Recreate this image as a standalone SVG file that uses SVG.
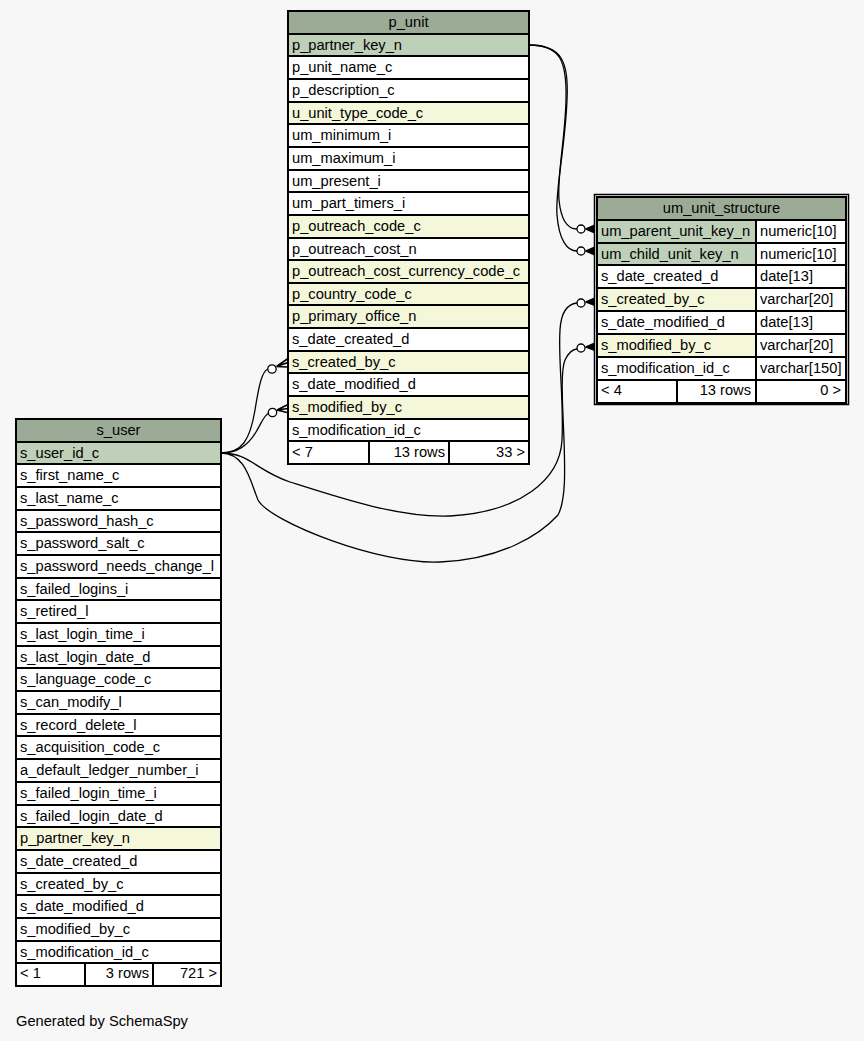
<svg xmlns="http://www.w3.org/2000/svg" width="864" height="1041" viewBox="0 0 864 1041">
<style>
text{font-family:"Liberation Sans",Arial,Helvetica,sans-serif;font-size:14.67px;fill:#000}
.c{stroke:#000;stroke-width:2;fill:#fff}
.h{fill:#9bab96}
.pk{fill:#bed1b8}
.fk{fill:#f4f7da}
.m{text-anchor:middle}
.r{text-anchor:end}
.e{fill:none;stroke:#000;stroke-width:1.3}
.o{fill:#fff;stroke:#000;stroke-width:1.3}
.cr{fill:#000;stroke:#000;stroke-width:1.4;stroke-linejoin:round}
</style>
<rect x="0" y="0" width="864" height="1041" fill="#f7f7f7"/>

<g id="p_unit">
<rect class="c h" x="288" y="11" width="241" height="23"/><text class="m" x="408.5" y="27">p_unit</text>
<rect class="c pk" x="288" y="34" width="241" height="22"/><text x="292" y="50">p_partner_key_n</text>
<rect class="c" x="288" y="56" width="241" height="23"/><text x="292" y="72">p_unit_name_c</text>
<rect class="c" x="288" y="79" width="241" height="23"/><text x="292" y="95">p_description_c</text>
<rect class="c fk" x="288" y="102" width="241" height="22"/><text x="292" y="118">u_unit_type_code_c</text>
<rect class="c" x="288" y="124" width="241" height="23"/><text x="292" y="140">um_minimum_i</text>
<rect class="c" x="288" y="147" width="241" height="23"/><text x="292" y="163">um_maximum_i</text>
<rect class="c" x="288" y="170" width="241" height="22"/><text x="292" y="186">um_present_i</text>
<rect class="c" x="288" y="192" width="241" height="23"/><text x="292" y="208">um_part_timers_i</text>
<rect class="c fk" x="288" y="215" width="241" height="23"/><text x="292" y="231">p_outreach_code_c</text>
<rect class="c" x="288" y="238" width="241" height="22"/><text x="292" y="254">p_outreach_cost_n</text>
<rect class="c fk" x="288" y="260" width="241" height="23"/><text x="292" y="276">p_outreach_cost_currency_code_c</text>
<rect class="c fk" x="288" y="283" width="241" height="22"/><text x="292" y="299">p_country_code_c</text>
<rect class="c fk" x="288" y="305" width="241" height="23"/><text x="292" y="321">p_primary_office_n</text>
<rect class="c" x="288" y="328" width="241" height="23"/><text x="292" y="344">s_date_created_d</text>
<rect class="c fk" x="288" y="351" width="241" height="22"/><text x="292" y="367">s_created_by_c</text>
<rect class="c" x="288" y="373" width="241" height="23"/><text x="292" y="389">s_date_modified_d</text>
<rect class="c fk" x="288" y="396" width="241" height="23"/><text x="292" y="412">s_modified_by_c</text>
<rect class="c" x="288" y="419" width="241" height="22"/><text x="292" y="435">s_modification_id_c</text>
<rect class="c" x="288" y="441" width="81" height="23"/><text x="292" y="457">&lt; 7</text>
<rect class="c" x="369" y="441" width="80" height="23"/><text class="r" x="445" y="457">13 rows</text>
<rect class="c" x="449" y="441" width="80" height="23"/><text class="r" x="525" y="457">33 &gt;</text>
</g>

<g id="um_unit_structure">
<rect x="594.5" y="194.5" width="254" height="210" fill="none" stroke="#000" stroke-width="1.5"/>
<rect class="c h" x="597" y="197" width="249" height="23"/><text class="m" x="721.5" y="213">um_unit_structure</text>
<rect class="c pk" x="597" y="220" width="159" height="23"/><text x="601" y="236">um_parent_unit_key_n</text>
<rect class="c" x="756" y="220" width="90" height="23"/><text x="760" y="236">numeric[10]</text>
<rect class="c pk" x="597" y="243" width="159" height="22"/><text x="601" y="259">um_child_unit_key_n</text>
<rect class="c" x="756" y="243" width="90" height="22"/><text x="760" y="259">numeric[10]</text>
<rect class="c" x="597" y="265" width="159" height="23"/><text x="601" y="281">s_date_created_d</text>
<rect class="c" x="756" y="265" width="90" height="23"/><text x="760" y="281">date[13]</text>
<rect class="c fk" x="597" y="288" width="159" height="23"/><text x="601" y="304">s_created_by_c</text>
<rect class="c" x="756" y="288" width="90" height="23"/><text x="760" y="304">varchar[20]</text>
<rect class="c" x="597" y="311" width="159" height="23"/><text x="601" y="327">s_date_modified_d</text>
<rect class="c" x="756" y="311" width="90" height="23"/><text x="760" y="327">date[13]</text>
<rect class="c fk" x="597" y="334" width="159" height="23"/><text x="601" y="350">s_modified_by_c</text>
<rect class="c" x="756" y="334" width="90" height="23"/><text x="760" y="350">varchar[20]</text>
<rect class="c" x="597" y="357" width="159" height="23"/><text x="601" y="373">s_modification_id_c</text>
<rect class="c" x="756" y="357" width="90" height="23"/><text x="760" y="373">varchar[150]</text>
<rect class="c" x="597" y="380" width="80" height="23"/><text x="601" y="395">&lt; 4</text>
<rect class="c" x="677" y="380" width="79" height="23"/><text class="r" x="751" y="395">13 rows</text>
<rect class="c" x="756" y="380" width="90" height="23"/><text class="r" x="841" y="395">0 &gt;</text>
</g>

<g id="s_user">
<rect class="c h" x="16" y="419" width="205" height="23"/><text class="m" x="118.5" y="435">s_user</text>
<rect class="c pk" x="16" y="442" width="205" height="22"/><text x="20" y="458">s_user_id_c</text>
<rect class="c" x="16" y="464" width="205" height="23"/><text x="20" y="480">s_first_name_c</text>
<rect class="c" x="16" y="487" width="205" height="23"/><text x="20" y="503">s_last_name_c</text>
<rect class="c" x="16" y="510" width="205" height="22"/><text x="20" y="526">s_password_hash_c</text>
<rect class="c" x="16" y="532" width="205" height="23"/><text x="20" y="548">s_password_salt_c</text>
<rect class="c" x="16" y="555" width="205" height="23"/><text x="20" y="571">s_password_needs_change_l</text>
<rect class="c" x="16" y="578" width="205" height="22"/><text x="20" y="594">s_failed_logins_i</text>
<rect class="c" x="16" y="600" width="205" height="23"/><text x="20" y="616">s_retired_l</text>
<rect class="c" x="16" y="623" width="205" height="23"/><text x="20" y="639">s_last_login_time_i</text>
<rect class="c" x="16" y="646" width="205" height="22"/><text x="20" y="662">s_last_login_date_d</text>
<rect class="c" x="16" y="668" width="205" height="23"/><text x="20" y="684">s_language_code_c</text>
<rect class="c" x="16" y="691" width="205" height="23"/><text x="20" y="707">s_can_modify_l</text>
<rect class="c" x="16" y="714" width="205" height="22"/><text x="20" y="730">s_record_delete_l</text>
<rect class="c" x="16" y="736" width="205" height="23"/><text x="20" y="752">s_acquisition_code_c</text>
<rect class="c" x="16" y="759" width="205" height="23"/><text x="20" y="775">a_default_ledger_number_i</text>
<rect class="c" x="16" y="782" width="205" height="23"/><text x="20" y="798">s_failed_login_time_i</text>
<rect class="c" x="16" y="805" width="205" height="22"/><text x="20" y="821">s_failed_login_date_d</text>
<rect class="c fk" x="16" y="827" width="205" height="23"/><text x="20" y="843">p_partner_key_n</text>
<rect class="c" x="16" y="850" width="205" height="23"/><text x="20" y="866">s_date_created_d</text>
<rect class="c" x="16" y="873" width="205" height="22"/><text x="20" y="889">s_created_by_c</text>
<rect class="c" x="16" y="895" width="205" height="23"/><text x="20" y="911">s_date_modified_d</text>
<rect class="c" x="16" y="918" width="205" height="23"/><text x="20" y="934">s_modified_by_c</text>
<rect class="c" x="16" y="941" width="205" height="22"/><text x="20" y="957">s_modification_id_c</text>
<rect class="c" x="16" y="963" width="69" height="23"/><text x="20" y="978">&lt; 1</text>
<rect class="c" x="85" y="963" width="68" height="23"/><text class="r" x="149" y="978">3 rows</text>
<rect class="c" x="153" y="963" width="68" height="23"/><text class="r" x="217" y="978">721 &gt;</text>
</g>

<g id="connectors">
<path class="e" d="M529,45 C560,45 567,60 566,100 C565,140 557,175 559,200 C561,220 568,229 577,229"/>
<path class="e" d="M529,45 C562,45 569,62 567,100 C565,150 555,190 557,215 C559,240 567,251 577,251"/>
<path class="e" d="M221,453 C242,453 250,440 255,410 C259,385 262,371 268,369"/>
<path class="e" d="M221,453 C238,453 248,445 256,432 C262,422 264,415 269,413"/>
<path class="e" d="M221,453 C250,453 255,470 290,482 C340,498 400,518 450,516 C520,512 560,480 562,440 C564,400 558,360 560,330 C561,312 568,304 577,303"/>
<path class="e" d="M221,453 C245,453 250,480 258,500 C270,522 380,565 440,562 C500,560 540,535 558,515 C566,500 565,470 564,440 C563,410 560,372 565,360 C569,352 573,349 577,349"/>
<circle class="o" cx="581" cy="229" r="4"/>
<path class="cr" d="M586,229 L594,225.5 L594,232.5 Z"/>
<circle class="o" cx="581" cy="251" r="4"/>
<path class="cr" d="M586,251 L594,247.5 L594,254.5 Z"/>
<circle class="o" cx="581" cy="303" r="4"/>
<path class="cr" d="M586,302 L594,298.5 L594,305 Z"/>
<circle class="o" cx="581" cy="348" r="4"/>
<path class="cr" d="M586,347 L594,343.5 L594,350 Z"/>
<circle class="o" cx="272" cy="369" r="4.2"/>
<path class="e" d="M276.5,366.5 L288,358.5 M276.5,366.5 L288,362.5 M276.5,366.5 L287,367" style="stroke-width:1.6"/>
<circle class="o" cx="272.5" cy="412.5" r="4.2"/>
<path class="e" d="M277,410 L288,404.5 M277,410 L288,408.5 M277,410 L287,412.5" style="stroke-width:1.6"/>
</g>

<text x="16" y="1026">Generated by SchemaSpy</text>
</svg>
